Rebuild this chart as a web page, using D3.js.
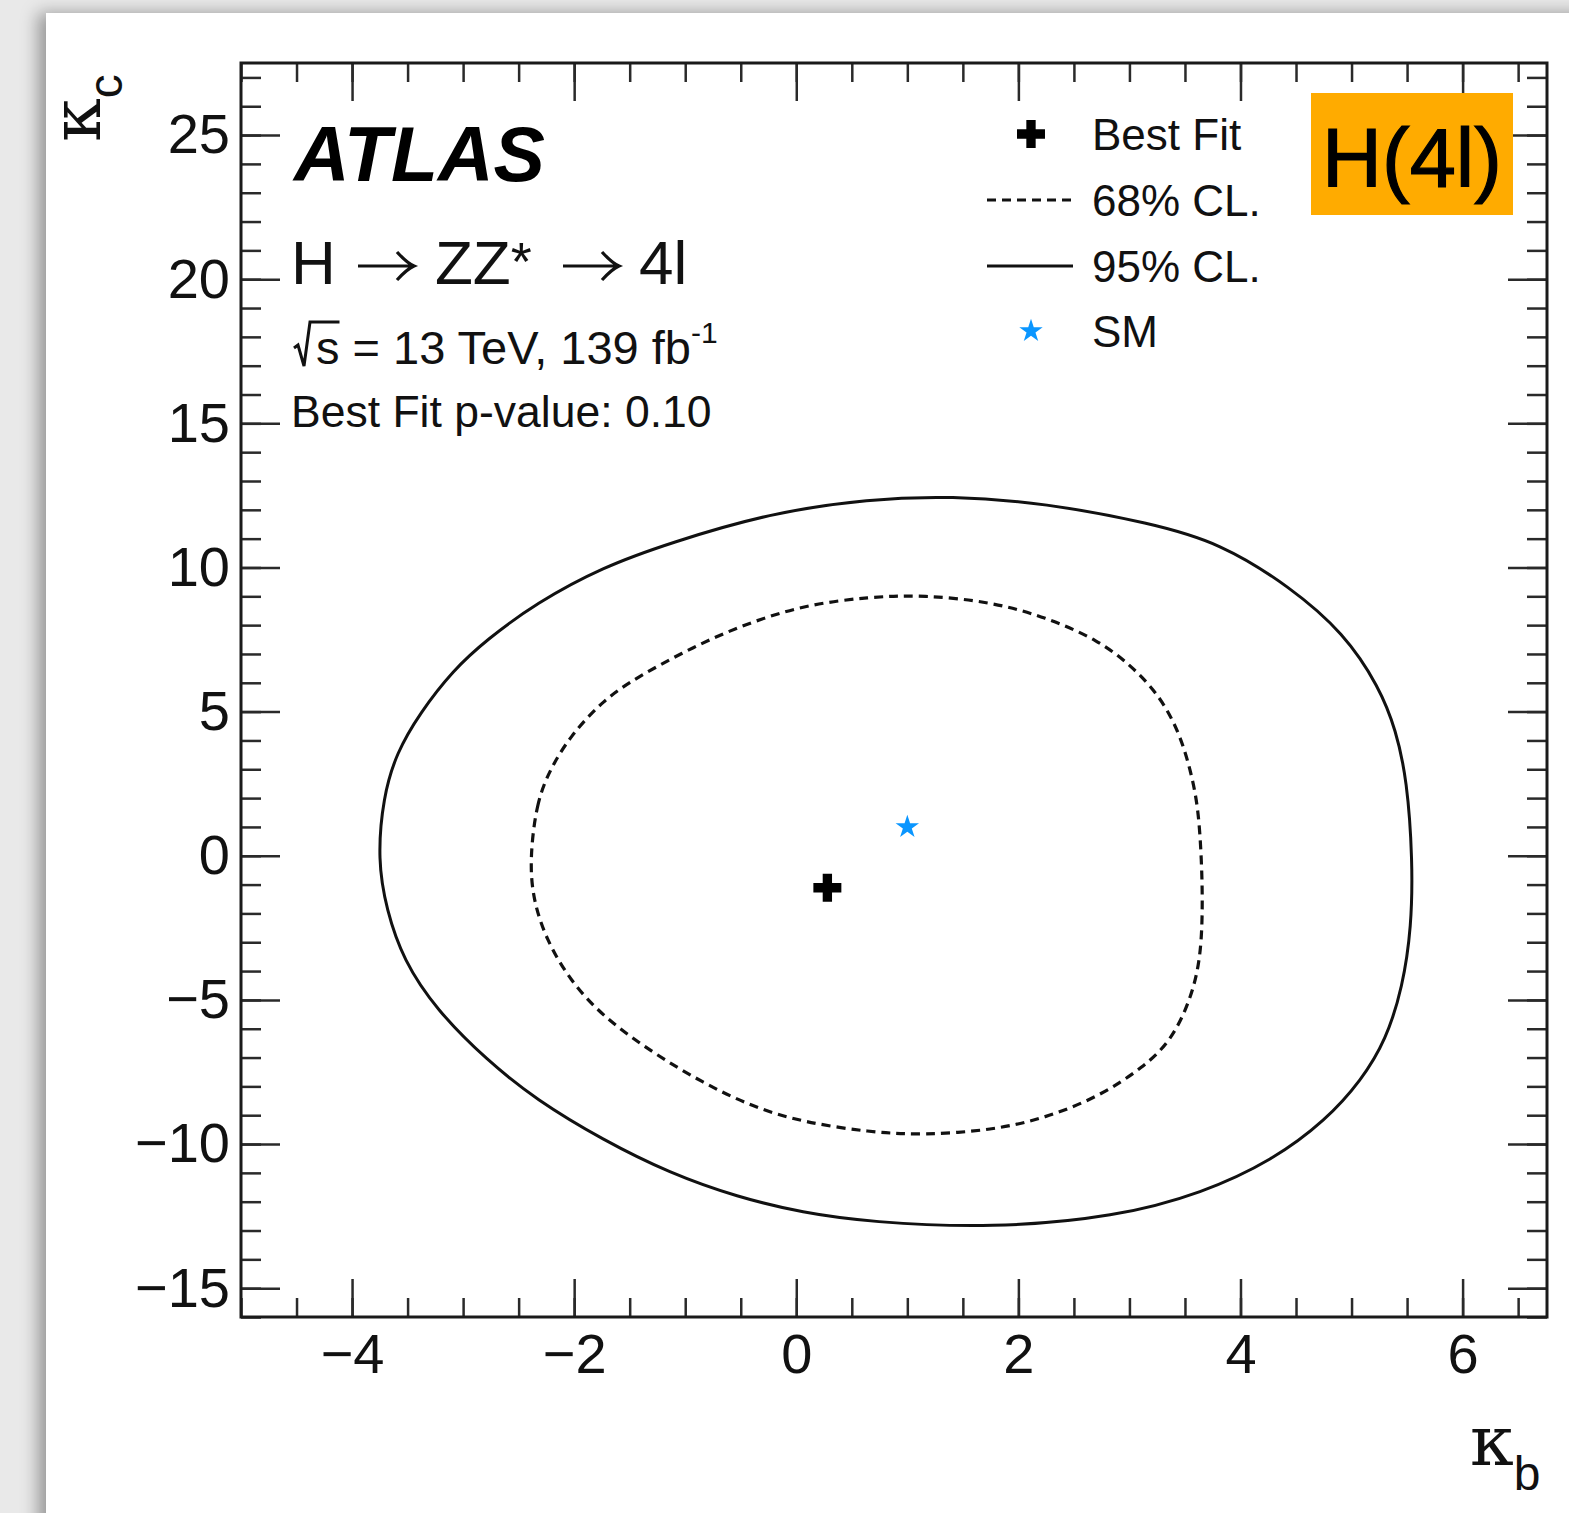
<!DOCTYPE html>
<html>
<head>
<meta charset="utf-8">
<script src="https://cdnjs.cloudflare.com/ajax/libs/d3/7.8.5/d3.min.js"></script>
<style>
  html, body { margin: 0; padding: 0; }
  body {
    width: 1569px; height: 1513px; overflow: hidden; position: relative;
    background: #e9e9e9;
    font-family: "Liberation Sans", Arial, Helvetica, sans-serif;
  }
  #card {
    position: absolute; left: 46px; top: 13px; width: 1560px; height: 1540px;
    background: #fff;
    box-shadow: -8px 0 16px rgba(0, 0, 0, 0.35);
  }
  svg { position: absolute; left: 0; top: 0; }
</style>
</head>
<body>
<div id="card"></div>
<svg id="chart" width="1569" height="1513"></svg>
<script>
// axis ticks (labels)
var xTicks = [-4, -2, 0, 2, 4, 6];
var yTicks = [-15, -10, -5, 0, 5, 10, 15, 20, 25];

// 95% CL contour (kappa_b, kappa_c)
var cl95 = [
  [-3.77, -0.15], [-3.72, 2.05], [-3.60, 3.57], [-3.39, 4.95], [-3.09, 6.44],
  [-2.79, 7.49], [-2.34, 8.77], [-1.74, 10.02], [-1.14, 10.85], [-0.24, 11.89],
  [0.66, 12.38], [1.39, 12.48], [2.24, 12.24], [3.19, 11.54], [3.82, 10.85],
  [4.45, 9.32], [4.93, 7.73], [5.25, 5.85], [5.40, 4.36], [5.50, 2.62],
  [5.55, -0.15], [5.54, -2.47], [5.46, -4.56], [5.31, -6.39], [5.09, -7.78],
  [4.77, -9.17], [4.29, -10.56], [3.66, -11.70], [2.88, -12.53], [1.77, -12.92],
  [0.66, -12.71], [0.06, -12.39], [-0.53, -11.84], [-1.14, -11.01], [-1.74, -9.86],
  [-2.34, -8.47], [-2.79, -7.08], [-3.24, -5.35], [-3.54, -3.61], [-3.69, -1.88]
];

// 68% CL contour
var cl68 = [
  [-2.40, -0.15], [-2.34, 1.83], [-2.22, 2.98], [-2.04, 4.13], [-1.74, 5.40],
  [-1.43, 6.20], [-0.98, 7.14], [-0.53, 7.94], [0.06, 8.70], [0.66, 8.98],
  [1.14, 9.05], [1.77, 8.80], [2.24, 8.28], [2.72, 7.49], [3.03, 6.55],
  [3.28, 5.51], [3.45, 4.26], [3.55, 2.98], [3.62, 1.69], [3.65, -0.15],
  [3.66, -1.88], [3.64, -3.61], [3.55, -5.00], [3.38, -6.39], [3.13, -7.33],
  [2.72, -8.37], [2.24, -9.10], [1.77, -9.52], [1.14, -9.69], [0.66, -9.59],
  [0.06, -9.24], [-0.39, -8.72], [-0.84, -7.88], [-1.29, -6.84], [-1.74, -5.59],
  [-2.04, -4.31], [-2.25, -2.92], [-2.37, -1.53]
];

var bestFit = [0.28, -1.11];
var smPoint = [1, 1];
var legendLabels = ["Best Fit", "68% CL.", "95% CL.", "SM"];

var svg = d3.select("#chart");

var x = d3.scaleLinear().domain([-5, 6.76]).range([241, 1547]);
var y = d3.scaleLinear().domain([-16, 27.5]).range([1317, 63]);

var xMinor = d3.range(-5, 6.76, 0.5);
var yMinor = d3.range(-16, 27.6, 1);

var tickColor = "#2a2a2a";

function styleAxis(g) {
  g.select(".domain").remove();
  g.selectAll("line").attr("stroke", tickColor).attr("stroke-width", 2.5);
  g.selectAll("text")
    .attr("fill", "#111")
    .style("font-size", "56px")
    .style("font-family", "'Liberation Sans', Arial, sans-serif");
}

// minor ticks on all four sides
svg.append("g").attr("transform", "translate(0,1317)")
  .call(d3.axisBottom(x).tickValues(xMinor).tickSize(-19).tickFormat(""))
  .call(styleAxis);
svg.append("g").attr("transform", "translate(0,63)")
  .call(d3.axisTop(x).tickValues(xMinor).tickSize(-19).tickFormat(""))
  .call(styleAxis);
svg.append("g").attr("transform", "translate(241,0)")
  .call(d3.axisLeft(y).tickValues(yMinor).tickSize(-20).tickFormat(""))
  .call(styleAxis);
svg.append("g").attr("transform", "translate(1547,0)")
  .call(d3.axisRight(y).tickValues(yMinor).tickSize(-20).tickFormat(""))
  .call(styleAxis);

// major ticks
svg.append("g").attr("transform", "translate(0,1317)")
  .call(d3.axisBottom(x).tickValues(xTicks).tickSize(-38).tickPadding(16))
  .call(styleAxis);
svg.append("g").attr("transform", "translate(0,63)")
  .call(d3.axisTop(x).tickValues(xTicks).tickSize(-38).tickFormat(""))
  .call(styleAxis);
svg.append("g").attr("transform", "translate(241,0)")
  .call(d3.axisLeft(y).tickValues(yTicks).tickSize(-39).tickPadding(11))
  .call(styleAxis);
svg.append("g").attr("transform", "translate(1547,0)")
  .call(d3.axisRight(y).tickValues(yTicks).tickSize(-39).tickFormat(""))
  .call(styleAxis);

// frame
svg.append("rect")
  .attr("x", 241).attr("y", 63).attr("width", 1306).attr("height", 1254)
  .attr("fill", "none").attr("stroke", "#1a1a1a").attr("stroke-width", 3);

// contours
var line = d3.line()
  .x(function (d) { return x(d[0]); })
  .y(function (d) { return y(d[1]); })
  .curve(d3.curveBasisClosed);

svg.append("path").datum(cl95)
  .attr("d", line).attr("fill", "none")
  .attr("stroke", "#111").attr("stroke-width", 3);

svg.append("path").datum(cl68)
  .attr("d", line).attr("fill", "none")
  .attr("stroke", "#111").attr("stroke-width", 3.2)
  .attr("stroke-dasharray", "9,6");

// markers
var cross = d3.symbol().type(d3.symbolCross).size(435);
var star = d3.symbol().type(d3.symbolStar).size(170);

svg.append("path").attr("d", cross)
  .attr("transform", "translate(" + x(bestFit[0]) + "," + y(bestFit[1]) + ")")
  .attr("fill", "#000");
svg.append("path").attr("d", star)
  .attr("transform", "translate(" + x(smPoint[0]) + "," + y(smPoint[1]) + ")")
  .attr("fill", "#0a96ff");

// axis titles
var kb = svg.append("text")
  .attr("x", 1470).attr("y", 1465)
  .style("font-family", "'DejaVu Serif', 'Liberation Serif', serif")
  .style("font-size", "70px").attr("fill", "#111");
kb.append("tspan").text("κ");
kb.append("tspan").attr("dy", 25).attr("dx", 0)
  .style("font-family", "'Liberation Sans', Arial, sans-serif")
  .style("font-size", "48px").text("b");

var kc = svg.append("text")
  .attr("transform", "translate(100,142) rotate(-90)")
  .style("font-family", "'DejaVu Serif', 'Liberation Serif', serif")
  .style("font-size", "70px").attr("fill", "#111");
kc.append("tspan").text("κ");
kc.append("tspan").attr("dy", 22).attr("dx", 0)
  .style("font-family", "'Liberation Sans', Arial, sans-serif")
  .style("font-size", "48px").text("c");

// ATLAS label and text block
svg.append("text")
  .attr("x", 294).attr("y", 181)
  .style("font-size", "77px").style("font-weight", "bold").style("font-style", "italic")
  .attr("fill", "#000").text("ATLAS");

var proc = svg.append("text").attr("y", 284)
  .style("font-size", "62px").attr("fill", "#111");
proc.append("tspan").attr("x", 291).text("H");
proc.append("tspan").attr("x", 435).text("ZZ");
proc.append("tspan").attr("dy", -4).style("font-size", "54px").text("*");
proc.append("tspan").attr("x", 639).attr("dy", 4).text("4l");

// long thin arrows like the ROOT symbol font
function arrow(x0, x1, yy) {
  svg.append("path")
    .attr("d", "M" + x0 + "," + yy + "L" + x1 + "," + yy +
      "M" + (x1 - 17) + "," + (yy - 14) + "Q" + (x1 - 7) + "," + (yy - 3) + " " + x1 + "," + yy +
      "Q" + (x1 - 7) + "," + (yy + 3) + " " + (x1 - 17) + "," + (yy + 14))
    .attr("fill", "none").attr("stroke", "#111").attr("stroke-width", 3.2);
}
arrow(358, 414, 266);
arrow(563, 619, 266);

// sqrt(s) line: radical drawn as a path next to the text
var lumi = svg.append("text")
  .attr("x", 316).attr("y", 364)
  .style("font-size", "47px").attr("fill", "#111");
lumi.append("tspan").text("s = 13 TeV, 139 fb");
lumi.append("tspan").attr("dy", -21).style("font-size", "30px").text("-1");

var sExt = lumi.node().getExtentOfChar(0);
var rTop = 364 - 42;
svg.append("path")
  .attr("d", "M" + (sExt.x - 22) + "," + (364 - 16) +
    "L" + (sExt.x - 18) + "," + (364 - 19) +
    "L" + (sExt.x - 12) + "," + 366 +
    "L" + (sExt.x - 6) + "," + rTop +
    "L" + (sExt.x + sExt.width) + "," + rTop)
  .attr("fill", "none").attr("stroke", "#111").attr("stroke-width", 3);

svg.append("text")
  .attr("x", 291).attr("y", 427)
  .style("font-size", "44.5px").attr("fill", "#111")
  .text("Best Fit p-value: 0.10");

// legend
var legY = [134, 200, 266, 331];
var leg = svg.append("g");
leg.append("path").attr("d", cross)
  .attr("transform", "translate(1031," + legY[0] + ")").attr("fill", "#000");
leg.append("line")
  .attr("x1", 987).attr("x2", 1073).attr("y1", legY[1]).attr("y2", legY[1])
  .attr("stroke", "#111").attr("stroke-width", 3).attr("stroke-dasharray", "9,6");
leg.append("line")
  .attr("x1", 987).attr("x2", 1073).attr("y1", legY[2]).attr("y2", legY[2])
  .attr("stroke", "#111").attr("stroke-width", 3);
leg.append("path").attr("d", star)
  .attr("transform", "translate(1031," + legY[3] + ")").attr("fill", "#0a96ff");

leg.selectAll("text.lab").data(legendLabels).enter().append("text")
  .attr("class", "lab")
  .attr("x", 1092)
  .attr("y", function (d, i) { return legY[i] + 16; })
  .style("font-size", "44px").attr("fill", "#111")
  .text(function (d) { return d; });

// orange tag
svg.append("rect")
  .attr("x", 1311).attr("y", 93).attr("width", 202).attr("height", 122)
  .attr("fill", "#ffab00");
svg.append("text")
  .attr("x", 1412).attr("y", 187)
  .attr("text-anchor", "middle")
  .style("font-size", "83px").attr("fill", "#000")
  .attr("stroke", "#000").attr("stroke-width", 1.2)
  .text("H(4l)");
</script>
</body>
</html>
